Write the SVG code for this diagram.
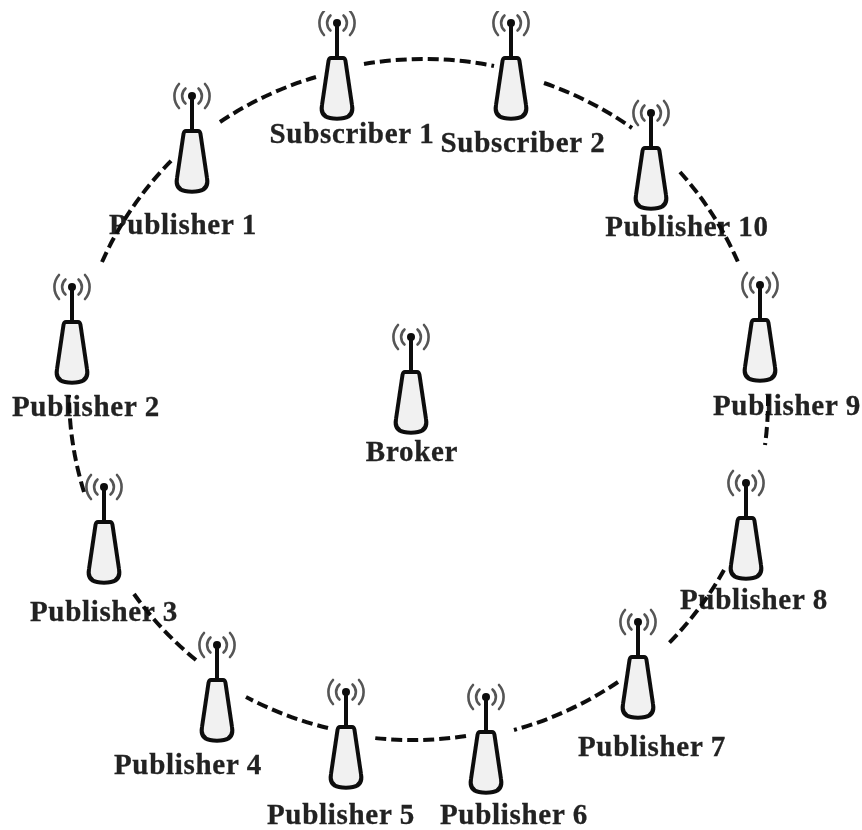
<svg xmlns="http://www.w3.org/2000/svg" width="862" height="830" viewBox="0 0 862 830">
<style>
.bg{fill:#fff}
.lab{font-family:"Liberation Serif","Times New Roman",serif;font-weight:700;font-size:29px;letter-spacing:0.7px;fill:#222;stroke:#222;stroke-width:0.3px;text-anchor:middle}
.arc{fill:none;stroke:#111;stroke-width:4;stroke-dasharray:11 5}
.ant-body{fill:#f1f1f1;stroke:#111;stroke-width:4;stroke-linejoin:round}
.ant-mast{fill:none;stroke:#111;stroke-width:4}
.ant-wave{fill:none;stroke:#555;stroke-width:2.6;stroke-linecap:round}
.ant-dot{fill:#111}
</style>
<defs>
<filter id="soft" x="0" y="0" width="100%" height="100%"><feGaussianBlur stdDeviation="0.5"/></filter>
<g id="ant">
<path class="ant-wave" d="M-6.500,-7.500A10,10 0 0 0 -6.500,7.500M6.500,-7.500A10,10 0 0 1 6.500,7.500"/>
<path class="ant-wave" d="M-13,-12A18,18 0 0 0 -13,12M13,-12A18,18 0 0 1 13,12"/>
<path class="ant-mast" d="M0,0V35"/>
<circle class="ant-dot" cx="0" cy="0" r="4"/>
<path class="ant-body" d="M-6,35H6Q8,35 8.500,38L15,82Q17,93 7,95Q0,96.500 -7,95Q-17,93 -15,82L-8.500,38Q-8,35 -6,35Z"/>
</g>
</defs>
<rect class="bg" width="862" height="830"/>
<g filter="url(#soft)">
<g id="node-subscriber-1"><use href="#ant" x="337" y="23"/><text class="lab" x="352" y="143">Subscriber 1</text></g>
<g id="node-subscriber-2"><use href="#ant" x="511" y="23"/><text class="lab" x="523" y="152">Subscriber 2</text></g>
<g id="node-publisher-10"><use href="#ant" x="651" y="113"/><text class="lab" x="687" y="236">Publisher 10</text></g>
<g id="node-publisher-9"><use href="#ant" x="760" y="285"/><text class="lab" x="787" y="415">Publisher 9</text></g>
<g id="node-publisher-8"><use href="#ant" x="746" y="483"/><text class="lab" x="754" y="609">Publisher 8</text></g>
<g id="node-publisher-7"><use href="#ant" x="638" y="622"/><text class="lab" x="652" y="756">Publisher 7</text></g>
<g id="node-publisher-6"><use href="#ant" x="486" y="697"/><text class="lab" x="514" y="824">Publisher 6</text></g>
<g id="node-publisher-5"><use href="#ant" x="346" y="692"/><text class="lab" x="341" y="824">Publisher 5</text></g>
<g id="node-publisher-4"><use href="#ant" x="217" y="645"/><text class="lab" x="188" y="774">Publisher 4</text></g>
<g id="node-publisher-3"><use href="#ant" x="104" y="487"/><text class="lab" x="104" y="621">Publisher 3</text></g>
<g id="node-publisher-2"><use href="#ant" x="72" y="287"/><text class="lab" x="86" y="416">Publisher 2</text></g>
<g id="node-publisher-1"><use href="#ant" x="192" y="96"/><text class="lab" x="183" y="234">Publisher 1</text></g>
<g id="node-broker"><use href="#ant" x="411" y="337"/><text class="lab" x="412" y="461">Broker</text></g>
<g id="connectors">
<path class="arc" d="M220,122A349,341 0 0 1 316,77"/>
<path class="arc" d="M364,64A349,341 0 0 1 494,66"/>
<path class="arc" d="M544,83A349,341 0 0 1 632,128"/>
<path class="arc" d="M680,172A349,341 0 0 1 738,262"/>
<path class="arc" d="M768,395A349,341 0 0 1 765,445"/>
<path class="arc" d="M724,570A349,341 0 0 1 667,645"/>
<path class="arc" d="M618,682A349,341 0 0 1 514,730"/>
<path class="arc" d="M466,736A349,341 0 0 1 374,738"/>
<path class="arc" d="M328,728A349,341 0 0 1 246,697"/>
<path class="arc" d="M196,660A349,341 0 0 1 134,594"/>
<path class="arc" d="M84,492A349,341 0 0 1 69,395"/>
<path class="arc" d="M102,262A349,341 0 0 1 172,160"/>
</g>
</g>
</svg>
